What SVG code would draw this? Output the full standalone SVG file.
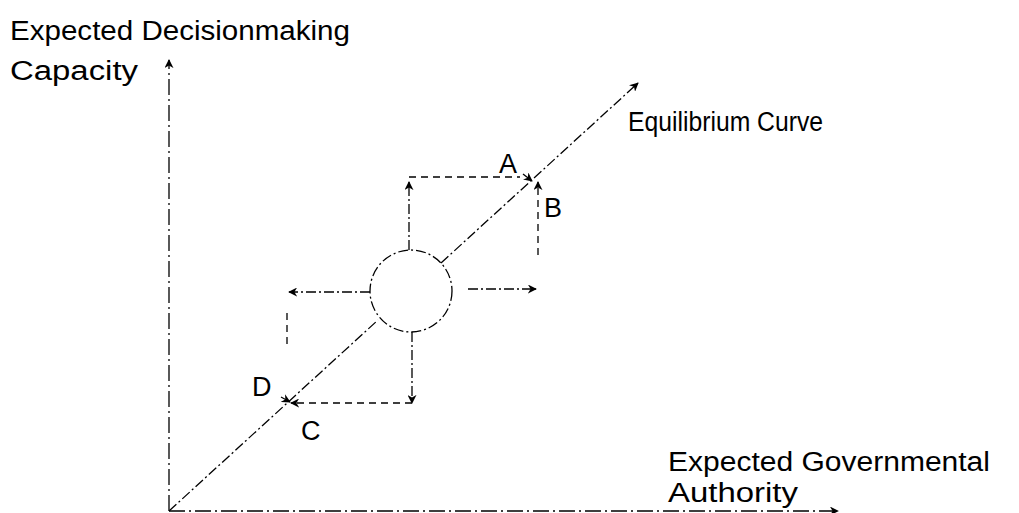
<svg xmlns="http://www.w3.org/2000/svg" width="1019" height="513" viewBox="0 0 1019 513">
<style>
text{font-family:"Liberation Sans",Arial,sans-serif;font-size:27px;fill:#000}
.ln{stroke:#000;stroke-width:1.3;fill:none}
.dd{stroke-dasharray:10 3 2 3}
.ds{stroke-dasharray:7 5}
.ax{stroke:#000;stroke-width:1.3;fill:none;stroke-dasharray:16 4 2 4}
</style>
<defs>
<marker id="ah" viewBox="0 0 10 10" refX="9" refY="5" markerWidth="9" markerHeight="9" markerUnits="userSpaceOnUse" orient="auto">
<path d="M0,0 L10,5 L0,10 L3,5 Z" fill="#000"/>
</marker>
</defs>
<rect width="1019" height="513" fill="#fff"/>
<g id="connectors">
<line id="y-axis" class="ax" x1="169" y1="511" x2="169" y2="60" marker-end="url(#ah)"/>
<line id="x-axis" class="ax" x1="169" y1="511" x2="838" y2="511" marker-end="url(#ah)"/>
<line id="equilibrium-lower" class="ln dd" x1="169" y1="511" x2="378" y2="320"/>
<line id="equilibrium-upper" class="ln dd" x1="441" y1="263" x2="638" y2="83" marker-end="url(#ah)"/>
<line class="ln dd" x1="370" y1="292" x2="289" y2="292" marker-end="url(#ah)"/>
<line class="ln dd" x1="468" y1="289" x2="536" y2="289" marker-end="url(#ah)"/>
<line class="ln dd" x1="409" y1="250" x2="409" y2="182" marker-end="url(#ah)"/>
<line class="ln dd" x1="412" y1="332" x2="412" y2="403" marker-end="url(#ah)"/>
<line class="ln ds" x1="409" y1="177" x2="520" y2="177"/>
<line class="ln" x1="523" y1="174" x2="532" y2="181" marker-end="url(#ah)"/>
<line class="ln ds" x1="538" y1="255" x2="538" y2="182" marker-end="url(#ah)"/>
<line class="ln ds" x1="412" y1="403" x2="291" y2="403" marker-end="url(#ah)"/>
<line class="ln" x1="281" y1="397" x2="290" y2="402" marker-end="url(#ah)"/>
<line class="ln ds" x1="287" y1="313" x2="287" y2="348"/>
</g>
<g id="node-circle">
<circle cx="411" cy="291" r="41" class="ln dd"/>
</g>
<g id="labels">
<text x="10" y="40" textLength="340" lengthAdjust="spacingAndGlyphs">Expected Decisionmaking</text>
<text x="10" y="80" textLength="128" lengthAdjust="spacingAndGlyphs">Capacity</text>
<text x="628" y="131" textLength="195" lengthAdjust="spacingAndGlyphs">Equilibrium Curve</text>
<text x="499" y="173">A</text>
<text x="544" y="217">B</text>
<text x="252" y="396">D</text>
<text x="301" y="440">C</text>
<text x="668" y="471" textLength="322" lengthAdjust="spacingAndGlyphs">Expected Governmental</text>
<text x="668" y="502" textLength="130" lengthAdjust="spacingAndGlyphs">Authority</text>
</g>
</svg>
